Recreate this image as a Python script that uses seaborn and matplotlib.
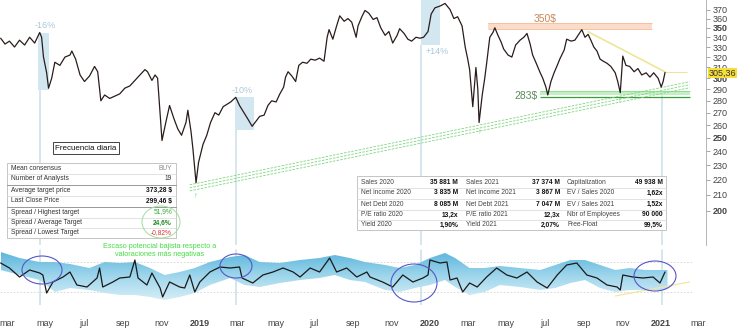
import numpy as np
import pandas as pd
import matplotlib
matplotlib.use("Agg")
import matplotlib.pyplot as plt
import matplotlib.dates as mdates
from matplotlib.patches import Ellipse, Rectangle
from matplotlib.colors import LinearSegmentedColormap
from matplotlib.ticker import FixedLocator, NullLocator
import seaborn as sns

# ---------------- data ----------------
price_dates = [
    "2018-02-19", "2018-02-26", "2018-03-05", "2018-03-13", "2018-03-21", "2018-03-29", "2018-04-06", "2018-04-14",
    "2018-04-22", "2018-04-25", "2018-04-28", "2018-05-03", "2018-05-06", "2018-05-11", "2018-05-16", "2018-05-24",
    "2018-06-01", "2018-06-09", "2018-06-12", "2018-06-18", "2018-06-25", "2018-07-02", "2018-07-10", "2018-07-18",
    "2018-07-23", "2018-07-28", "2018-08-03", "2018-08-11", "2018-08-19", "2018-08-27", "2018-09-04", "2018-09-12",
    "2018-09-20", "2018-09-28", "2018-10-06", "2018-10-10", "2018-10-17", "2018-10-22", "2018-10-26", "2018-11-02",
    "2018-11-08", "2018-11-14", "2018-11-21", "2018-11-27", "2018-12-03", "2018-12-10", "2018-12-13", "2018-12-18",
    "2018-12-21", "2018-12-26", "2018-12-30",
    "2019-01-06", "2019-01-12", "2019-01-18", "2019-01-25", "2019-01-31", "2019-02-07", "2019-02-13", "2019-02-19",
    "2019-02-27", "2019-03-05", "2019-03-12", "2019-03-18", "2019-03-25", "2019-03-31", "2019-04-06", "2019-04-13",
    "2019-04-19", "2019-04-25", "2019-05-02", "2019-05-08", "2019-05-14", "2019-05-17", "2019-05-21", "2019-05-27",
    "2019-06-02", "2019-06-07", "2019-06-13", "2019-06-20", "2019-06-26", "2019-07-03", "2019-07-10", "2019-07-17",
    "2019-07-22", "2019-07-25", "2019-07-31", "2019-08-06", "2019-08-11", "2019-08-18", "2019-08-24", "2019-08-30",
    "2019-09-06", "2019-09-09", "2019-09-15", "2019-09-20", "2019-09-26", "2019-10-03", "2019-10-09", "2019-10-15",
    "2019-10-22", "2019-10-28", "2019-11-03", "2019-11-10", "2019-11-14", "2019-11-21", "2019-11-27", "2019-12-03",
    "2019-12-10", "2019-12-16", "2019-12-22", "2019-12-29",
    "2020-01-03", "2020-01-09", "2020-01-17", "2020-01-25", "2020-02-02", "2020-02-08", "2020-02-14", "2020-02-21",
    "2020-02-26", "2020-03-01", "2020-03-04", "2020-03-09", "2020-03-14", "2020-03-17", "2020-03-19", "2020-03-24",
    "2020-03-28", "2020-03-31", "2020-04-05", "2020-04-10", "2020-04-13", "2020-04-18", "2020-04-23", "2020-04-27",
    "2020-05-04", "2020-05-10", "2020-05-16", "2020-05-23", "2020-05-29", "2020-06-03", "2020-06-08", "2020-06-12",
    "2020-06-17", "2020-06-24", "2020-06-28", "2020-07-03", "2020-07-06", "2020-07-11", "2020-07-16", "2020-07-21",
    "2020-07-25", "2020-08-01", "2020-08-05", "2020-08-12", "2020-08-18", "2020-08-24", "2020-08-29", "2020-09-03",
    "2020-09-08", "2020-09-13", "2020-09-17", "2020-09-22", "2020-09-27", "2020-10-02", "2020-10-08", "2020-10-14",
    "2020-10-21", "2020-10-25", "2020-10-29", "2020-11-02", "2020-11-07", "2020-11-13", "2020-11-20", "2020-11-26",
    "2020-12-02", "2020-12-09", "2020-12-15", "2020-12-21", "2020-12-28", "2021-01-02", "2021-01-05", "2021-01-08"]
price_values = [
    339, 333, 336, 330, 337, 332, 340, 334, 345, 340, 320, 305, 291, 300, 315, 312,
    320, 322, 326, 318, 303, 297, 302, 311, 306, 280, 285, 282, 284, 286, 291, 293,
    298, 303, 308, 306, 298, 303, 300, 248, 262, 276, 265, 257, 252, 262, 272, 255,
    242, 218, 232,
    245, 252, 262, 270, 268, 275, 277, 279, 283, 276, 270, 265, 259, 263, 267, 268,
    276, 280, 279, 286, 292, 301, 306, 302, 297, 312, 315, 314, 318, 317, 319, 316,
    340, 348, 338, 352, 363, 357, 360, 356, 340, 352, 362, 369, 366, 359, 361, 350,
    342, 346, 334, 342, 349, 344, 338, 336, 340, 339, 340, 346,
    365, 372, 374, 377, 370, 360, 362, 352, 330, 318, 308, 275, 310, 290, 262, 285,
    300, 314, 340, 345, 350, 342, 335, 328, 322, 320, 332, 337, 340, 344, 333, 322,
    315, 305, 300, 292, 285, 297, 305, 312, 318, 327, 338, 336, 337, 343, 348, 340,
    343, 336, 330, 326, 318, 316, 314, 311, 305, 297, 287, 321, 312, 311, 306, 309,
    303, 305, 301, 305, 300, 292, 297, 305.36]

osc_dates = [
    "2018-02-19", "2018-03-05", "2018-03-21", "2018-04-06", "2018-04-22", "2018-04-27", "2018-05-03", "2018-05-13",
    "2018-05-29", "2018-06-09", "2018-06-20", "2018-07-06", "2018-07-22", "2018-07-26", "2018-07-31", "2018-08-16",
    "2018-08-27", "2018-09-12", "2018-09-20", "2018-09-25", "2018-10-09", "2018-10-17", "2018-10-30", "2018-11-03",
    "2018-11-14", "2018-11-30", "2018-12-08", "2018-12-16", "2018-12-24",
    "2019-01-01", "2019-01-17", "2019-02-02", "2019-02-18", "2019-03-05", "2019-03-09", "2019-03-26", "2019-04-11",
    "2019-04-27", "2019-05-13", "2019-05-29", "2019-06-09", "2019-06-25", "2019-07-10", "2019-07-26", "2019-08-06",
    "2019-08-22", "2019-09-07", "2019-09-23", "2019-09-28", "2019-10-18", "2019-11-03", "2019-11-19", "2019-12-05",
    "2019-12-21", "2019-12-29",
    "2020-01-01", "2020-01-17", "2020-01-28", "2020-02-02", "2020-02-13", "2020-02-22", "2020-03-04", "2020-03-16",
    "2020-03-31", "2020-04-16", "2020-05-02", "2020-05-18", "2020-06-03", "2020-06-19", "2020-07-05", "2020-07-21",
    "2020-08-05", "2020-08-21", "2020-09-06", "2020-09-22", "2020-10-08", "2020-10-24", "2020-10-29", "2020-11-02",
    "2020-11-18", "2020-12-04", "2020-12-20", "2020-12-31", "2021-01-08"]
osc_values = [
    74, 64, 46, 60, 54, 50, 14, 36, 46, 56, 30, 26, 44, 64, 26, 36, 44, 46, 80, 44, 30, 54, 24, 6, 36, 26, 24, 50, 16,
    36, 56, 66, 64, 66, 44, 34, 50, 56, 64, 56, 46, 64, 56, 84, 56, 64, 46, 56, 46, 36, 26, 50, 36, 44, 50,
    80, 74, 76, 40, 44, 16, 34, 26, 46, 64, 50, 44, 56, 36, 24, 50, 70, 74, 50, 44, 30, 26, 20, 50, 46, 44, 46, 34, 56]

band_dates = [
    "2018-02-19", "2018-03-21", "2018-04-22", "2018-05-16", "2018-06-09", "2018-07-10", "2018-08-03", "2018-08-27",
    "2018-09-20", "2018-10-14", "2018-11-06", "2018-11-30", "2018-12-24",
    "2019-01-17", "2019-02-18", "2019-03-13", "2019-04-06", "2019-05-08", "2019-06-09", "2019-07-10", "2019-08-03",
    "2019-08-27", "2019-09-20", "2019-10-22", "2019-11-14", "2019-12-08",
    "2020-01-01", "2020-01-25", "2020-02-10", "2020-03-04", "2020-03-28", "2020-04-21", "2020-05-23", "2020-06-24",
    "2020-07-18", "2020-08-11", "2020-09-03", "2020-09-27", "2020-10-21", "2020-11-13", "2020-12-07", "2020-12-31",
    "2021-01-12"]
band_high = [96, 84, 76, 76, 72, 64, 76, 74, 76, 64, 50, 56, 64,
             76, 86, 90, 76, 74, 80, 84, 90, 84, 76, 70, 64, 70,
             84, 94, 84, 64, 64, 68, 64, 60, 70, 80, 80, 70, 60, 64, 60, 60, 60]
band_low = [60, 50, 40, 16, 24, 20, 14, 10, 10, 6, 0, 6, 14,
            30, 44, 30, 26, 34, 40, 44, 50, 40, 36, 20, 16, 24,
            30, 40, 26, 10, 16, 30, 26, 20, 24, 34, 40, 24, 16, 20, 20, 20, 22]

y_ticks = [200, 210, 220, 230, 240, 250, 260, 270, 280, 290, 300, 310, 320, 330, 340, 350, 360, 370]
y_bold = [200, 250, 300, 350]
x_tick_dates = ["2018-03-01", "2018-05-01", "2018-07-01", "2018-09-01", "2018-11-01", "2019-01-01",
                "2019-03-01", "2019-05-01", "2019-07-01", "2019-09-01", "2019-11-01", "2020-01-01",
                "2020-03-01", "2020-05-01", "2020-07-01", "2020-09-01", "2020-11-01", "2021-01-01", "2021-03-01"]
x_tick_labels = ["mar", "may", "jul", "sep", "nov", "2019", "mar", "may", "jul", "sep", "nov", "2020",
                 "mar", "may", "jul", "sep", "nov", "2021", "mar"]

last_price = 305.36
last_price_label = "305,36"

# earnings events: date, box start, box end, box low, box high, label, label date, label price
event_dates = ["2018-04-22", "2019-02-27", "2019-12-18", "2021-01-03"]
event_line_tops = [289.6, 256.2, 332.2, 285.0]
event_box_start = ["2018-04-20", "2019-02-26", "2019-12-18"]
event_box_end = ["2018-05-06", "2019-03-28", "2020-01-17"]
event_box_low = [289.6, 256.2, 332.2]
event_box_high = [344.6, 283.4, 381.0]
event_labels = ["-16%", "-10%", "+14%"]
event_label_dates = ["2018-04-30", "2019-03-09", "2020-01-12"]
event_label_prices = [352.6, 288.7, 325.2]

resist_start, resist_end = "2020-04-02", "2020-12-18"
resist_low, resist_high = 349.0, 355.2
support_start, support_end = "2020-06-24", "2021-02-16"
support_low, support_high, support_line = 285.1, 288.7, 283.4
trend_dates = ["2018-12-16", "2021-02-16"]
trend_lines = [[214.6, 294.1], [216.6, 296.8], [212.6, 291.4]]
yellow_dates = ["2020-09-08", "2021-01-08"]
yellow_prices = [345.8, 305.9]
arrow_dates = ["2018-12-26", "2020-03-20", "2020-10-28"]
arrow_prices = [208.7, 253.9, 279.1]

left_labels = ["Mean consensus", "Number of Analysts", "Average target price", "Last Close Price",
               "Spread / Highest target", "Spread / Average Target", "Spread / Lowest Target"]
left_values = ["BUY", "19", "373,28 $", "299,46 $", "51,9%", "24,6%", "-0,82%"]

right_rows = [
    ["Sales 2020", "35 881 M", "Sales 2021", "37 374 M", "Capitalization", "49 938 M"],
    ["Net income 2020", "3 835 M", "Net income 2021", "3 867 M", "EV / Sales 2020", "1,62x"],
    ["Net Debt 2020", "8 085 M", "Net Debt 2021", "7 047 M", "EV / Sales 2021", "1,52x"],
    ["P/E ratio 2020", "13,2x", "P/E ratio 2021", "12,3x", "Nbr of Employees", "90 000"],
    ["Yield 2020", "1,90%", "Yield 2021", "2,07%", "Free-Float", "99,5%"],
]

# ---------------- figure ----------------
sns.set_theme(style="white")
plt.rcParams['font.family'] = ['Liberation Sans', 'DejaVu Sans']

W, H = 749, 328
fig = plt.figure(figsize=(W / 100, H / 100), dpi=100)
fig.patch.set_facecolor("white")


def fax(x0, y0, x1, y1):
    return [x0 / W, 1 - y1 / H, (x1 - x0) / W, (y1 - y0) / H]


ax = fig.add_axes(fax(0, 0, 706, 245))
axo = fig.add_axes(fax(0, 245, 706, 305))
ov = fig.add_axes([0, 0, 1, 1])
ov.set_xlim(0, W)
ov.set_ylim(H, 0)
ov.axis("off")
ov.patch.set_alpha(0)
for a in (ax, axo):
    a.patch.set_alpha(0)

T = pd.to_datetime
xmin, xmax = T("2018-02-18"), T("2021-03-14")

# ---- main price panel ----
for d, top in zip(event_dates, event_line_tops):
    ax.vlines(T(d), 150, top, color="#c9dfea", lw=1.1, zorder=1)
for s, e, lo, hi in zip(event_box_start, event_box_end, event_box_low, event_box_high):
    ax.fill_between([T(s), T(e)], lo, hi, color="#d3e7f0", lw=0, zorder=1)
for lab, d, p in zip(event_labels, event_label_dates, event_label_prices):
    ax.text(T(d), p, lab, color="#a9c8d8", fontsize=6.5, ha="center", va="center", zorder=2)

ax.fill_between([T(resist_start), T(resist_end)], resist_low, resist_high, color="#fbdcc8", lw=0, zorder=1)
ax.hlines([resist_low, resist_high], T(resist_start), T(resist_end), color="#f4bc98", lw=0.6, zorder=1)
ax.text(T("2020-07-02"), 359.7, "350$", color="#c8875a", fontsize=7.5, ha="center", va="center")

ax.fill_between([T(support_start), T(support_end)], support_low, support_high, color="#c4efc4", lw=0, zorder=1)
ax.hlines(support_high, T(support_start), T(support_end), color="#8fd98f", lw=0.6, zorder=1)
ax.hlines(support_line, T(support_start), T(support_end), color="#3c9a3c", lw=0.9, zorder=1)
ax.text(T("2020-06-01"), 284.5, "283$", color="#5b8b5b", fontsize=7.5, ha="center", va="center")

for tl in trend_lines:
    ax.plot(T(trend_dates), tl, color="#7dd67d", lw=0.6, ls=(0, (3, 1.5)), zorder=1)
ax.plot(T(yellow_dates), yellow_prices, color="#efe59a", lw=1.2, zorder=1)
ax.hlines(last_price, T("2021-01-08"), T("2021-02-12"), color="#efe3a0", lw=0.8, zorder=1)
for d, p in zip(arrow_dates, arrow_prices):
    ax.text(T(d), p, "\u2191", color="#5fcc5f", fontsize=5.5, ha="center", va="center")

dfp = pd.DataFrame({"date": T(price_dates), "price": price_values})
sns.lineplot(data=dfp, x="date", y="price", ax=ax, color="#2b1c1c", lw=0.9, zorder=3)

ax.set_yscale("log")
ax.set_ylim(180.2, 381)
ax.set_xlim(xmin, xmax)
ax.yaxis.set_major_locator(FixedLocator(y_ticks))
ax.yaxis.set_minor_locator(NullLocator())
ax.set_yticklabels([str(v) for v in y_ticks])
ax.yaxis.tick_right()
for lbl, v in zip(ax.get_yticklabels(), y_ticks):
    if v in y_bold:
        lbl.set_fontweight("bold")
ax.tick_params(axis="y", which="major", direction="out", length=3, width=0.6, color="#999999",
               labelsize=6.5, labelcolor="#444444", pad=2, right=True, left=False)
ax.set_xticks([])
ax.set_xlabel("")
ax.set_ylabel("")
for sp in ("top", "left", "bottom"):
    ax.spines[sp].set_visible(False)
ax.spines["right"].set_color("#aaaaaa")
ax.spines["right"].set_linewidth(0.6)

# ---- oscillator panel ----
bd = T(band_dates)
poly = axo.fill_between(bd, band_low, band_high, color="none", lw=0)
cmap = LinearSegmentedColormap.from_list("band", ["#d6eef7", "#9fd6ec", "#5cb6dc"])
grad = np.linspace(0, 1, 256).reshape(-1, 1)
im = axo.imshow(grad, extent=[mdates.date2num(bd.min()), mdates.date2num(bd.max()), 0, 96],
                origin="lower", aspect="auto", cmap=cmap, zorder=1)
im.set_clip_path(poly.get_paths()[0], transform=axo.transData)

for d in event_dates:
    axo.axvline(T(d), color="#c9dfea", lw=1.1, ymax=0.92, zorder=0)
axo.hlines([76, 16], xmin, T("2021-02-20"), color="#d4d4d4", lw=0.6, ls=(0, (2, 2)), zorder=0)
axo.plot(T(["2020-10-21", "2021-02-16"]), [8, 36], color="#f3e6a4", lw=0.9, zorder=1)

dfo = pd.DataFrame({"date": T(osc_dates), "osc": osc_values})
sns.lineplot(data=dfo, x="date", y="osc", ax=axo, color="#1a1a1a", lw=0.9, zorder=3)

axo.set_xlim(xmin, xmax)
axo.set_ylim(-10, 110)
axo.set_yticks([])
axo.set_xlabel("")
axo.set_ylabel("")
axo.set_xticks(T(x_tick_dates))
axo.set_xticklabels(x_tick_labels)
for lbl, t in zip(axo.get_xticklabels(), x_tick_labels):
    if t.isdigit():
        lbl.set_fontweight("bold")
axo.tick_params(axis="x", length=0, pad=10, labelsize=6.5, labelcolor="#444444")
for sp in axo.spines.values():
    sp.set_visible(False)

# ---- overlay annotations (pixel coords) ----
for cx, cy, w, h in [(42, 270, 40, 28), (236, 266, 32, 24), (414, 283, 46, 38), (655, 276, 42, 30)]:
    ov.add_patch(Ellipse((cx, cy), w, h, fill=False, edgecolor="#5656c8", lw=0.8, zorder=5))

ov.text(86, 148, "Frecuencia diaria", fontsize=5.8, ha="center", va="center", color="#111111",
        bbox=dict(facecolor="white", edgecolor="#222222", lw=0.6, pad=1.5), zorder=6)

# left table
ov.add_patch(Rectangle((7, 163), 169, 75, facecolor="white", edgecolor="#bbbbbb", lw=0.6, zorder=5))
row_y = [168, 179, 190, 201, 212, 223, 233]
sep_y = [173.5, 184.5, 195.5, 206.5, 217.5, 228.2]
sep_dark = [False, True, False, True, False, False]
for y, dk in zip(sep_y, sep_dark):
    ov.plot([7, 176], [y, y], color="#888888" if dk else "#dddddd", lw=0.6, zorder=6)
val_colors = ["#888888", "#333333", "#111111", "#111111", "#33aa33", "#228822", "#dd3333"]
val_bold = [False, False, True, True, False, True, False]
for y, lab, val, c, b in zip(row_y, left_labels, left_values, val_colors, val_bold):
    ov.text(11, y, lab, fontsize=4.8, color="#333333", va="center", ha="left", zorder=7)
    ov.text(172, y, val, fontsize=4.8, color=c, va="center", ha="right",
            fontweight="bold" if b else "normal", zorder=7)
ov.add_patch(Ellipse((161, 222), 38, 32, fill=False, edgecolor="#9ddf9d", lw=0.7, zorder=7))

ov.text(160, 246, "Escaso potencial bajista respecto a", fontsize=5.2, color="#44dd44", ha="center",
        va="center", zorder=7)
ov.text(160, 254, "valoraciones más negativas", fontsize=5.2, color="#44dd44", ha="center", va="center",
        zorder=7)

# right table
ov.add_patch(Rectangle((357, 176), 309, 54, facecolor="white", edgecolor="#bbbbbb", lw=0.6, zorder=5))
r_y = [182, 193, 204, 215, 225]
for y in [187.5, 198.5, 209.5, 220]:
    ov.plot([357, 666], [y, y], color="#dddddd", lw=0.6, zorder=6)
lab_x = [361, 466, 567]
val_x = [458, 560, 663]
for y, row in zip(r_y, right_rows):
    for k in range(3):
        ov.text(lab_x[k], y, row[2 * k], fontsize=4.8, color="#444444", va="center", ha="left", zorder=7)
        ov.text(val_x[k], y, row[2 * k + 1], fontsize=4.8, color="#111111", va="center", ha="right",
                fontweight="bold", zorder=7)

# last price tag
ov.text(709, 73, last_price_label, fontsize=6.5, color="#333333", va="center", ha="left",
        bbox=dict(facecolor="#f6df3a", edgecolor="none", pad=0.6), zorder=8)

fig.savefig("out.png", dpi=100)
